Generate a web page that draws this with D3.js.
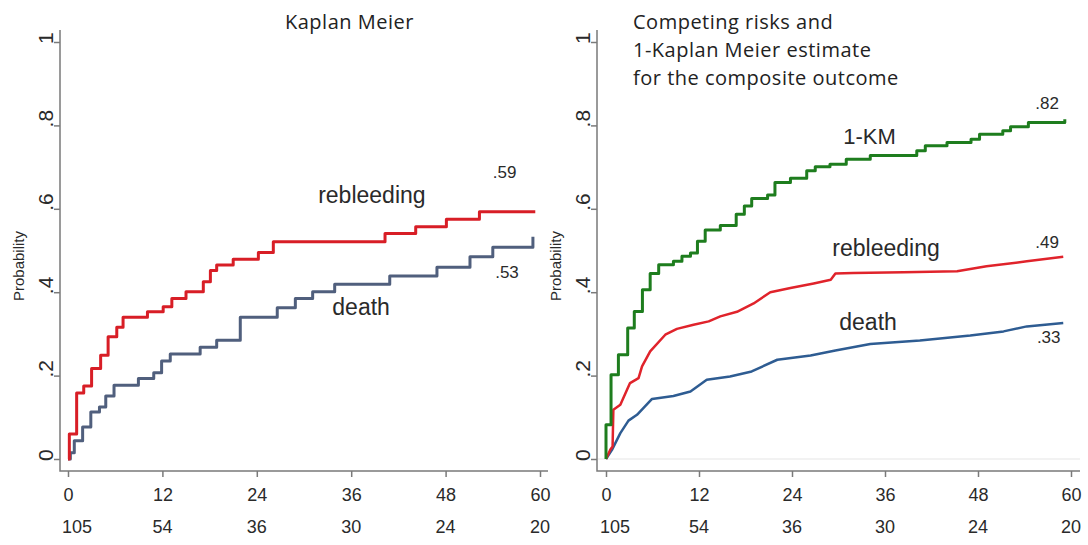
<!DOCTYPE html>
<html>
<head>
<meta charset="utf-8">
<script src="https://cdn.jsdelivr.net/npm/d3@7"></script>
<style>
  body { margin: 0; background: #fff; }
  svg { display: block; }
  text { font-family: "Liberation Sans", Arial, sans-serif; fill: #2a2a2a; }
  .title { font-family: "Open Sans", sans-serif; font-size: 20px; letter-spacing: 0.5px; fill: #222; }
</style>
</head>
<body>
<div id="chart"></div>
<script>
// months and numbers at risk
const xTicks = [0, 12, 24, 36, 48, 60];
const atRisk = [105, 54, 36, 30, 24, 20];
const yTicks = [0, 0.2, 0.4, 0.6, 0.8, 1];
const yTickLabels = ["0", ".2", ".4", ".6", ".8", "1"];

// Kaplan Meier, rebleeding (step: [month, probability after jump])
const kmRebleed = [[0,0],[0.17,0.06],[1.1,0.158],[2.0,0.175],[3.0,0.217],[4.15,0.249],[5.1,0.293],[6.2,0.316],[7.0,0.34],[10.1,0.353],[12.1,0.365],[13.2,0.385],[15.0,0.401],[17.2,0.425],[18.1,0.452],[18.9,0.465],[21.0,0.479],[24.2,0.495],[26.1,0.521],[40.3,0.541],[44.2,0.557],[48.1,0.575],[52.3,0.593],[59.4,0.593]];
// Kaplan Meier, death
const kmDeath = [[0,0],[0.3,0.015],[0.8,0.044],[1.86,0.077],[2.9,0.113],[4.0,0.125],[4.8,0.151],[5.85,0.177],[8.95,0.193],[10.9,0.207],[11.9,0.235],[13.0,0.252],[16.8,0.268],[18.9,0.285],[21.9,0.34],[26.6,0.363],[28.9,0.385],[31.1,0.401],[33.9,0.419],[40.9,0.439],[46.9,0.46],[51.1,0.485],[54.0,0.508],[59.1,0.533]];

// 1-KM composite outcome (step)
const oneMinusKM = [[0,0],[0,0.082],[0.65,0.202],[1.6,0.25],[2.8,0.314],[3.65,0.354],[4.7,0.406],[5.7,0.445],[6.8,0.466],[8.7,0.474],[9.8,0.486],[10.9,0.494],[11.8,0.522],[12.8,0.549],[14.75,0.56],[16.8,0.587],[17.85,0.607],[18.8,0.625],[20.85,0.633],[21.8,0.663],[23.8,0.673],[25.9,0.691],[27.0,0.701],[28.9,0.707],[31.0,0.719],[34.1,0.728],[40.1,0.739],[41.2,0.751],[44.0,0.759],[47.1,0.767],[48.2,0.779],[51.2,0.787],[52.2,0.797],[54.5,0.807],[59.2,0.807],[59.2,0.815]];
// competing risks cumulative incidence
const ciRebleed = [[0,0],[0.55,0.022],[0.85,0.03],[0.95,0.118],[1.85,0.13],[3.1,0.182],[4.2,0.194],[4.65,0.222],[5.7,0.258],[7.65,0.298],[9.15,0.312],[11.3,0.322],[13.25,0.33],[14.75,0.342],[16.9,0.353],[19.05,0.373],[21.2,0.4],[23.8,0.41],[26.8,0.421],[29.0,0.43],[29.6,0.445],[31.9,0.446],[38.4,0.448],[45.3,0.45],[49.1,0.462],[54.3,0.474],[59,0.485]];
const ciDeath = [[0,0],[0.77,0.022],[1.85,0.062],[2.9,0.092],[4.0,0.106],[5.94,0.144],[8.7,0.151],[10.9,0.162],[13.0,0.19],[16.0,0.198],[18.8,0.21],[22.1,0.238],[26.4,0.248],[29.6,0.26],[34.1,0.276],[40.5,0.284],[47,0.296],[51.3,0.306],[54.3,0.318],[59,0.326]];

const width = 1088, height = 545;
const svg = d3.select("#chart").append("svg")
    .attr("width", width)
    .attr("height", height);

const panels = [
    {
        axisX: 60, xRange: [68, 540], xEnd: 548,
        title: ["Kaplan Meier"], titleX: 285,
        series: [
            {data: kmDeath, color: "#505f7d", width: 3, step: true},
            {data: kmRebleed, color: "#d81e26", width: 3, step: true}
        ],
        labels: [
            {t: 31.8, p: 0.614, text: "rebleeding", size: 23},
            {t: 33.6, p: 0.345, text: "death", size: 23},
            {t: 54.0, p: 0.674, text: ".59", size: 17},
            {t: 54.3, p: 0.434, text: ".53", size: 17}
        ],
        zeroLine: false
    },
    {
        axisX: 597, xRange: [606, 1071], xEnd: 1080,
        title: ["Competing risks and", "1-Kaplan Meier estimate", "for the composite outcome"], titleX: 633,
        series: [
            {data: ciDeath, color: "#2e5c92", width: 2.5, step: false},
            {data: ciRebleed, color: "#e0232b", width: 2.5, step: false},
            {data: oneMinusKM, color: "#1e7d1e", width: 3, step: true}
        ],
        labels: [
            {t: 30.6, p: 0.755, text: "1-KM", size: 22},
            {t: 55.4, p: 0.839, text: ".82", size: 17},
            {t: 29.2, p: 0.486, text: "rebleeding", size: 23},
            {t: 55.4, p: 0.507, text: ".49", size: 17},
            {t: 30.1, p: 0.31, text: "death", size: 23},
            {t: 55.6, p: 0.279, text: ".33", size: 17}
        ],
        zeroLine: true
    }
];

const y = d3.scaleLinear().domain([0, 1]).range([459, 42]);
const axisY = 471;

panels.forEach(function(pn) {
    let x = d3.scaleLinear().domain([0, 60]).range(pn.xRange);
    let g = svg.append("g");

    if (pn.zeroLine) {
        g.append("line")
            .attr("x1", pn.axisX + 1).attr("x2", pn.xEnd)
            .attr("y1", y(0)).attr("y2", y(0))
            .attr("stroke", "#eeeeee").attr("stroke-width", 1.5);
    }

    // axis lines
    g.append("path")
        .attr("d", "M" + pn.axisX + ",30V" + axisY + "H" + pn.xEnd)
        .attr("fill", "none")
        .attr("stroke", "#7a7a7a")
        .attr("stroke-width", 1.5);

    // x axis
    let xAxis = d3.axisBottom(x).tickValues(xTicks).tickSize(6).tickFormat(d => d);
    let gx = g.append("g")
        .attr("transform", "translate(0," + axisY + ")")
        .call(xAxis);
    gx.select(".domain").remove();
    gx.selectAll(".tick line").attr("stroke", "#7a7a7a").attr("stroke-width", 1.5);
    gx.selectAll(".tick text")
        .attr("y", 30).attr("dy", 0)
        .style("font-size", "18px")
        .style("font-family", "'Liberation Sans', Arial, sans-serif")
        .attr("fill", "#2a2a2a");

    // numbers at risk (first one pushed right like the original)
    g.selectAll(".risk")
        .data(atRisk)
        .enter()
        .append("text")
        .attr("class", "risk")
        .attr("x", (d, i) => i === 0 ? x(xTicks[i]) - 6 : x(xTicks[i]))
        .attr("y", 533)
        .attr("text-anchor", (d, i) => i === 0 ? "start" : "middle")
        .style("font-size", "18px")
        .text(d => d);

    // y axis
    let yAxis = d3.axisLeft(y).tickValues(yTicks).tickSize(6).tickFormat("");
    let gy = g.append("g")
        .attr("transform", "translate(" + pn.axisX + ",0)")
        .call(yAxis);
    gy.select(".domain").remove();
    gy.selectAll(".tick line").attr("stroke", "#7a7a7a").attr("stroke-width", 1.5);

    g.selectAll(".ylab")
        .data(yTicks)
        .enter()
        .append("text")
        .attr("class", "ylab")
        .attr("transform", d => "translate(" + (pn.axisX - 7) + "," + (y(d) + 2) + ") rotate(-90)")
        .attr("text-anchor", "start")
        .style("font-size", "21px")
        .text((d, i) => yTickLabels[i]);

    g.append("text")
        .attr("transform", "translate(" + (pn.axisX - 36) + "," + 266 + ") rotate(-90)")
        .attr("text-anchor", "middle")
        .style("font-size", "15px")
        .text("Probability");

    // title
    g.selectAll(".title")
        .data(pn.title)
        .enter()
        .append("text")
        .attr("class", "title")
        .attr("x", pn.titleX)
        .attr("y", (d, i) => 29 + i * 28)
        .text(d => d);

    // curves
    pn.series.forEach(function(s) {
        let line = d3.line()
            .x(d => x(d[0]))
            .y(d => y(d[1]))
            .curve(s.step ? d3.curveStepAfter : d3.curveLinear);
        g.append("path")
            .datum(s.data)
            .attr("d", line)
            .attr("fill", "none")
            .attr("stroke", s.color)
            .attr("stroke-width", s.width)
            .attr("stroke-linejoin", "round");
    });

    // curve labels
    g.selectAll(".clab")
        .data(pn.labels)
        .enter()
        .append("text")
        .attr("class", "clab")
        .attr("x", d => x(d.t))
        .attr("y", d => y(d.p))
        .style("font-size", d => d.size + "px")
        .text(d => d.text);
});
</script>
</body>
</html>
